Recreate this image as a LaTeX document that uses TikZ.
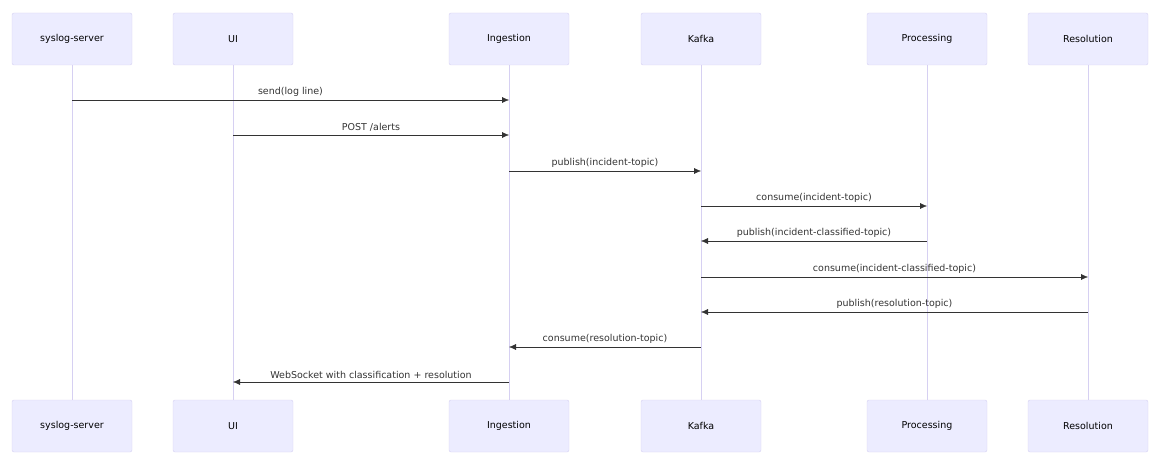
\documentclass[tikz,border=0pt]{standalone}
\usepackage{fontspec}
\setmainfont{DejaVu Sans}
\usetikzlibrary{arrows.meta}
\definecolor{actorfill}{HTML}{ECECFF}
\definecolor{actorline}{HTML}{D6D0F2}
\definecolor{msgline}{HTML}{333333}
\begin{document}
\begin{tikzpicture}[x=1pt,y=-1pt,
    actor/.style={
      rectangle,
      draw=actorline,
      fill=actorfill,
      rounded corners=2pt,
      minimum height=52pt,
      minimum width=120pt,
      font=\fontsize{9.5}{11}\selectfont
    },
    msg/.style={draw=msgline, -{Latex[length=7pt,width=6pt]}},
    lbl/.style={font=\fontsize{9.5}{11}\selectfont, text=msgline, above, inner sep=3pt},
]
\useasboundingbox (0,0) rectangle (1163,465);

% participants, top and bottom
\foreach \name/\x/\txt in {sys/72/syslog-server, ui/233/UI, ing/509/Ingestion,
    kaf/701/Kafka, pro/927/Processing, res/1088/Resolution} {
  \draw[actorline, line width=0.8pt] (\x,65) -- (\x,400);
  \node[actor] (\name) at (\x,39) {\txt};
  \node[actor] (\name B) at (\x,426) {\txt};
}

% messages
\draw[msg] (sys |- 0,100) -- node[lbl] {send(log line)} (ing |- 0,100);
\draw[msg] (ui |- 0,135) -- node[lbl] {POST /alerts} (ing |- 0,135);
\draw[msg] (ing |- 0,171) -- node[lbl] {publish(incident-topic)} (kaf |- 0,171);
\draw[msg] (kaf |- 0,206) -- node[lbl] {consume(incident-topic)} (pro |- 0,206);
\draw[msg] (pro |- 0,241) -- node[lbl] {publish(incident-classified-topic)} (kaf |- 0,241);
\draw[msg] (kaf |- 0,277) -- node[lbl] {consume(incident-classified-topic)} (res |- 0,277);
\draw[msg] (res |- 0,312) -- node[lbl] {publish(resolution-topic)} (kaf |- 0,312);
\draw[msg] (kaf |- 0,347) -- node[lbl] {consume(resolution-topic)} (ing |- 0,347);
\draw[msg] (ing |- 0,382) -- node[lbl] {WebSocket with classification + resolution} (ui |- 0,382);

\end{tikzpicture}
\end{document}
